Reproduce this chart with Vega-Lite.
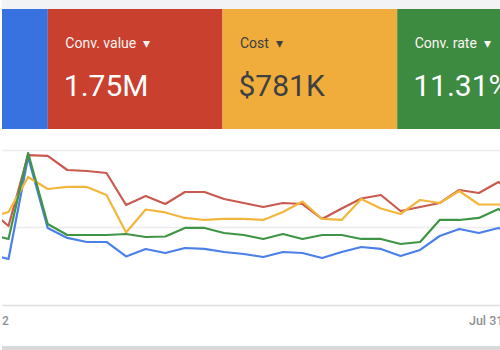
{
  "$schema": "https://vega.github.io/schema/vega-lite/v6.json",
  "padding": 0,
  "spacing": 0,
  "background": "#ffffff",
  "config": {"view": {"stroke": null}, "font": "Roboto"},
  "resolve": {"scale": {"x": "independent", "y": "independent", "color": "independent"}},
  "datasets": {
    "cards": [
      {"metric": "conversions", "label": "", "value": "", "start": 0, "end": 1},
      {"metric": "convValue", "label": "Conv. value\u00a0 ▾", "value": "1.75M", "start": 1, "end": 2},
      {"metric": "cost", "label": "Cost\u00a0 ▾", "value": "$781K", "start": 2, "end": 3},
      {"metric": "convRate", "label": "Conv. rate\u00a0 ▾", "value": "11.31%", "start": 3, "end": 4}
    ],
    "series": [
      {"date": "2022-07-03", "conversions": 0.658, "convValue": 1.239, "cost": 1.123, "convRate": 0.916},
      {"date": "2022-07-04", "conversions": 0.594, "convValue": 1.019, "cost": 1.200, "convRate": 0.852},
      {"date": "2022-07-05", "conversions": 1.910, "convValue": 1.935, "cost": 1.652, "convRate": 1.961},
      {"date": "2022-07-06", "conversions": 0.994, "convValue": 1.923, "cost": 1.497, "convRate": 1.045},
      {"date": "2022-07-07", "conversions": 0.865, "convValue": 1.742, "cost": 1.523, "convRate": 0.903},
      {"date": "2022-07-08", "conversions": 0.813, "convValue": 1.729, "cost": 1.523, "convRate": 0.903},
      {"date": "2022-07-09", "conversions": 0.813, "convValue": 1.703, "cost": 1.419, "convRate": 0.903},
      {"date": "2022-07-10", "conversions": 0.626, "convValue": 1.290, "cost": 0.935, "convRate": 0.916},
      {"date": "2022-07-11", "conversions": 0.723, "convValue": 1.406, "cost": 1.232, "convRate": 0.877},
      {"date": "2022-07-12", "conversions": 0.671, "convValue": 1.303, "cost": 1.194, "convRate": 0.884},
      {"date": "2022-07-13", "conversions": 0.735, "convValue": 1.458, "cost": 1.123, "convRate": 0.994},
      {"date": "2022-07-14", "conversions": 0.723, "convValue": 1.458, "cost": 1.097, "convRate": 0.994},
      {"date": "2022-07-15", "conversions": 0.684, "convValue": 1.368, "cost": 1.110, "convRate": 0.929},
      {"date": "2022-07-16", "conversions": 0.658, "convValue": 1.316, "cost": 1.110, "convRate": 0.903},
      {"date": "2022-07-17", "conversions": 0.619, "convValue": 1.265, "cost": 1.097, "convRate": 0.852},
      {"date": "2022-07-18", "conversions": 0.684, "convValue": 1.316, "cost": 1.200, "convRate": 0.916},
      {"date": "2022-07-19", "conversions": 0.671, "convValue": 1.303, "cost": 1.335, "convRate": 0.852},
      {"date": "2022-07-20", "conversions": 0.606, "convValue": 1.110, "cost": 1.110, "convRate": 0.903},
      {"date": "2022-07-21", "conversions": 0.684, "convValue": 1.245, "cost": 1.097, "convRate": 0.903},
      {"date": "2022-07-22", "conversions": 0.748, "convValue": 1.374, "cost": 1.368, "convRate": 0.852},
      {"date": "2022-07-23", "conversions": 0.723, "convValue": 1.419, "cost": 1.245, "convRate": 0.852},
      {"date": "2022-07-24", "conversions": 0.632, "convValue": 1.213, "cost": 1.174, "convRate": 0.787},
      {"date": "2022-07-25", "conversions": 0.710, "convValue": 1.265, "cost": 1.355, "convRate": 0.813},
      {"date": "2022-07-26", "conversions": 0.890, "convValue": 1.316, "cost": 1.316, "convRate": 1.097},
      {"date": "2022-07-27", "conversions": 0.981, "convValue": 1.484, "cost": 1.471, "convRate": 1.097},
      {"date": "2022-07-28", "conversions": 0.929, "convValue": 1.445, "cost": 1.297, "convRate": 1.123},
      {"date": "2022-07-29", "conversions": 0.994, "convValue": 1.587, "cost": 1.297, "convRate": 1.239},
      {"date": "2022-07-30", "conversions": 0.890, "convValue": 1.406, "cost": 1.277, "convRate": 1.045}
    ],
    "dateLabels": [
      {"date": "2022-07-01", "label": "Jul 1, 2022", "side": "start"},
      {"date": "2022-07-31", "label": "Jul 31, 2022", "side": "end"}
    ]
  },
  "vconcat": [
    {
      "width": 500,
      "height": 129,
      "view": {"fill": "#f1f3f4", "stroke": null},
      "data": {"name": "cards"},
      "encoding": {
        "x": {"field": "start", "type": "quantitative", "scale": {"domain": [0.7378, 3.5999], "nice": false, "zero": false}, "axis": null}
      },
      "layer": [
        {
          "mark": {"type": "rect", "clip": true},
          "encoding": {
            "x2": {"field": "end"},
            "y": {"datum": 0, "type": "quantitative", "scale": {"domain": [0, 1.075], "nice": false, "zero": false}, "axis": null},
            "y2": {"datum": 1},
            "color": {"field": "metric", "type": "nominal", "legend": null,
              "scale": {"domain": ["conversions", "convValue", "cost", "convRate"], "range": ["#3871e0", "#c9402f", "#f0ad3b", "#3d8b40"]}}
          }
        },
        {
          "mark": {"type": "text", "clip": true, "align": "left", "baseline": "alphabetic", "dx": 17.5, "fontSize": 14, "font": "Roboto"},
          "encoding": {
            "y": {"datum": 0.675, "type": "quantitative"},
            "text": {"field": "label"},
            "color": {"condition": {"test": "datum.metric === 'cost'", "value": "#3c4043"}, "value": "#fdf4f2"}
          }
        },
        {
          "mark": {"type": "text", "clip": true, "align": "left", "baseline": "alphabetic", "dx": 16, "fontSize": 30, "font": "Roboto"},
          "encoding": {
            "y": {"datum": 0.271, "type": "quantitative"},
            "text": {"field": "value"},
            "color": {"condition": {"test": "datum.metric === 'cost'", "value": "#3c4043"}, "value": "#ffffff"}
          }
        }
      ]
    },
    {
      "width": 500,
      "height": 221,
      "view": {"fill": "#ffffff", "stroke": null},
      "layer": [
        {
          "data": {"name": "series"},
          "transform": [{"fold": ["conversions", "convValue", "cost", "convRate"], "as": ["metric", "level"]}],
          "mark": {"type": "line", "clip": true, "strokeWidth": 2.2, "strokeJoin": "round"},
          "encoding": {
            "x": {"field": "date", "type": "temporal", "axis": null,
              "scale": {"domain": [{"year": 2022, "month": 7, "date": 3, "hours": 16, "minutes": 2, "utc": true}, {"year": 2022, "month": 7, "date": 29, "hours": 4, "minutes": 18, "utc": true}]}},
            "y": {"field": "level", "type": "quantitative",
              "scale": {"domain": [-0.581, 2.271], "nice": false, "zero": false},
              "axis": {"values": [0, 1, 2], "labels": false, "ticks": false, "domain": false, "title": null, "grid": true,
                "gridColor": {"condition": {"test": "datum.value === 0", "value": "#dedede"}, "value": "#ececec"},
                "gridWidth": 1.5, "minExtent": 0, "maxExtent": 0}},
            "color": {"field": "metric", "type": "nominal", "legend": null, "sort": null,
              "scale": {"domain": ["conversions", "convValue", "cost", "convRate"], "range": ["#4a80e8", "#c95a4f", "#f2b63c", "#3f9445"]}}
          }
        },
        {
          "data": {"name": "dateLabels"},
          "transform": [{"filter": "datum.side === 'start'"}],
          "mark": {"type": "text", "clip": true, "align": "left", "baseline": "alphabetic", "fontSize": 12, "fontWeight": 500, "color": "#8d9196", "font": "Roboto"},
          "encoding": {
            "x": {"field": "date", "type": "temporal"},
            "y": {"datum": -0.252, "type": "quantitative"},
            "text": {"field": "label"}
          }
        },
        {
          "data": {"name": "dateLabels"},
          "transform": [{"filter": "datum.side === 'end'"}],
          "mark": {"type": "text", "clip": true, "align": "right", "baseline": "alphabetic", "fontSize": 12.5, "fontWeight": 500, "color": "#8d9196", "font": "Roboto"},
          "encoding": {
            "x": {"field": "date", "type": "temporal"},
            "y": {"datum": -0.252, "type": "quantitative"},
            "text": {"field": "label"}
          }
        },
        {
          "data": {"values": [{"edge": -0.555}]},
          "mark": {"type": "rule", "color": "#d9d9d9", "strokeWidth": 4},
          "encoding": {"y": {"field": "edge", "type": "quantitative"}}
        }
      ]
    }
  ]
}
